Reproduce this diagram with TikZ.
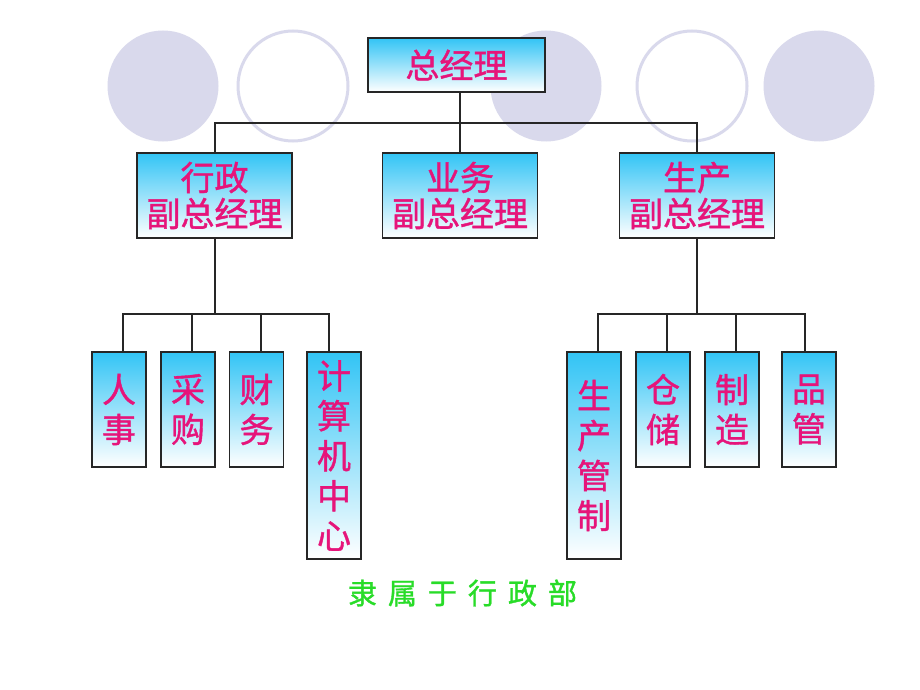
\documentclass[tikz,border=0pt]{standalone}
\usepackage{fontspec}
\newfontfamily\cjk{Noto Sans CJK SC}[FakeBold=1.2]
\definecolor{lav}{RGB}{217,217,236}
\definecolor{txtpink}{RGB}{230,20,122}
\definecolor{grn}{RGB}{40,220,40}
\definecolor{cyantop}{RGB}{50,196,245}
\tikzset{
  orgbox/.style={draw=black!85, line width=1.4pt, top color=cyantop, bottom color=white,
    text=txtpink, font=\cjk\fontsize{34}{36}\selectfont, align=center, inner sep=0pt},
  leafbox/.style={orgbox, minimum width=54pt, font=\cjk\fontsize{34}{40}\selectfont},
  link/.style={draw=black!85, line width=1.3pt},
  ring/.style={draw=lav, line width=3pt}
}
\begin{document}
\begin{tikzpicture}[x=1pt,y=-1pt]
\useasboundingbox (0,0) rectangle (920,690);
\fill[white] (0,0) rectangle (920,690);
% decorative circles
\fill[lav] (163,86) circle (55.5pt);
\draw[ring] (293,86) circle (55pt);
\fill[lav] (546,86) circle (55.5pt);
\draw[ring] (692,86) circle (55pt);
\fill[lav] (819,86) circle (55.5pt);
% nodes
\node[orgbox, minimum width=177pt, minimum height=54pt] (ceo) at (456.5,65) {总经理};
\node[orgbox, minimum width=155pt, minimum height=85pt] (adm) at (214.5,195.5) {行政\\副总经理};
\node[orgbox, minimum width=155pt, minimum height=85pt] (biz) at (460,195.5) {业务\\副总经理};
\node[orgbox, minimum width=155pt, minimum height=85pt] (prd) at (697,195.5) {生产\\副总经理};
\node[leafbox, minimum height=115pt] (hr) at (119,409.5) {人\\事};
\node[leafbox, minimum height=115pt] (buy) at (188,409.5) {采\\购};
\node[leafbox, minimum height=115pt] (fin) at (256.5,409.5) {财\\务};
\node[leafbox, minimum height=207pt] (it) at (334,455.5) {计\\算\\机\\中\\心};
\node[leafbox, minimum height=207pt] (pc) at (594,455.5) {生\\产\\管\\制};
\node[leafbox, minimum height=115pt] (wh) at (663,409.5) {仓\\储};
\node[leafbox, minimum height=115pt] (mfg) at (732,409.5) {制\\造};
\node[leafbox, minimum height=115pt] (qc) at (809,409.5) {品\\管};
% bars
\coordinate (b1) at (460,123);
\coordinate (b2) at (215,314);
\coordinate (b3) at (697,314);
% connectors
\draw[link] ([xshift=3.5pt]ceo.south) -- (b1);
\draw[link] ([xshift=0.5pt]adm.north) |- (b1) -| (prd.north);
\draw[link] (biz.north) -- (biz.north |- b1);
\draw[link] ([xshift=0.5pt]adm.south) -- (b2);
\draw[link] ([xshift=4pt]hr.north) |- (b2) -| ([xshift=-5pt]it.north);
\draw[link] ([xshift=4pt]buy.north) -- ([xshift=4pt]buy.north |- b2);
\draw[link] ([xshift=4.5pt]fin.north) -- ([xshift=4.5pt]fin.north |- b2);
\draw[link] (prd.south) -- (b3);
\draw[link] ([xshift=4pt]pc.north) |- (b3) -| ([xshift=-4pt]qc.north);
\draw[link] ([xshift=4pt]wh.north) -- ([xshift=4pt]wh.north |- b3);
\draw[link] ([xshift=4pt]mfg.north) -- ([xshift=4pt]mfg.north |- b3);
% note
\node[text=grn, font=\cjk\fontsize{29}{29}\selectfont, inner sep=0pt] (note) at (462.5,593)
  {隶\hspace{11pt}属\hspace{11pt}于\hspace{11pt}行\hspace{11pt}政\hspace{11pt}部};
\end{tikzpicture}
\end{document}
